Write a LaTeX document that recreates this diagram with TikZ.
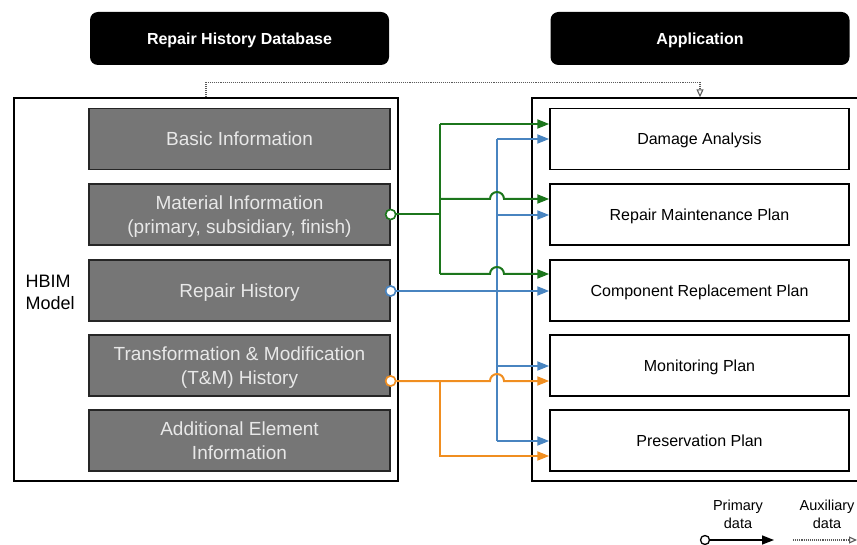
\documentclass[tikz,border=0pt]{standalone}
\usepackage{fontspec}
\setmainfont{Liberation Sans}
\usetikzlibrary{arrows.meta,calc}

\definecolor{gcol}{RGB}{28,118,28}
\definecolor{bcol}{RGB}{72,132,192}
\definecolor{ocol}{RGB}{240,142,32}
\definecolor{boxgray}{RGB}{118,118,118}
\definecolor{boxtext}{RGB}{232,232,232}
\definecolor{dotgray}{RGB}{90,90,90}

\tikzset{
  headbox/.style={fill=black, rounded corners=8pt, minimum width=299, minimum height=53,
    inner sep=0, text depth=0pt, text=white, font=\fontsize{16}{19}\selectfont\bfseries},
  container/.style={draw=black, line width=1.4pt, inner sep=0},
  databox/.style={draw=black!85, line width=1.3pt, fill=boxgray, minimum width=301,
    minimum height=61, inner sep=0, text depth=0pt, align=center, text=boxtext,
    font=\fontsize{19}{24}\selectfont},
  appbox/.style={draw=black, line width=1.5pt, fill=white, minimum width=299,
    minimum height=61, inner sep=0, text depth=0pt, align=center,
    font=\fontsize{16}{19}\selectfont},
  arrowend/.style={-{Triangle[length=12pt,width=9pt]}},
  gconn/.style={draw=gcol, line width=2pt},
  bconn/.style={draw=bcol, line width=2pt},
  oconn/.style={draw=ocol, line width=2pt},
  srcdot/.style={circle, line width=1.5pt, fill=white, minimum size=10, inner sep=0},
  dotline/.style={draw=dotgray, line width=1.1pt, densely dotted},
  legtext/.style={align=center, font=\fontsize{14.5}{18}\selectfont}
}

\begin{document}
\begin{tikzpicture}[x=1pt,y=-1pt]
\useasboundingbox (0,0) rectangle (857,545);

% headers
\node[headbox] (rhd) at (239.5,38.5) {Repair History Database};
\node[headbox] (apph) at (700,38.5) {Application};

% containers
\node[container, minimum width=384, minimum height=383] (lc) at (206,289.5) {};
\begin{scope}
  \clip (0,0) rectangle (857,545);
  \node[container, minimum width=360, minimum height=383] (rc) at (712,289.5) {};
\end{scope}

\node[anchor=west, align=left, font=\fontsize{18}{22}\selectfont] (hbim) at (22,292) {HBIM\\Model};

% data boxes of the HBIM model
\node[databox] (bi) at (239.5,139)   {Basic Information};
\node[databox] (mat) at (239.5,214.5) {Material Information\\(primary, subsidiary, finish)};
\node[databox] (rh) at (239.5,290.5)  {Repair History};
\node[databox] (tm) at (239.5,365.5)  {Transformation \& Modification\\(T\&M) History};
\node[databox] (ae) at (239.5,440.5)  {Additional Element\\Information};

% application boxes
\node[appbox] (da) at (699.5,139)   {Damage Analysis};
\node[appbox] (rm) at (699.5,214.5) {Repair Maintenance Plan};
\node[appbox] (cp) at (699.5,290.5) {Component Replacement Plan};
\node[appbox] (mo) at (699.5,365.5) {Monitoring Plan};
\node[appbox] (pp) at (699.5,440.5) {Preservation Plan};

% auxiliary link between the two blocks
\draw[dotline, -{Triangle[open,length=8pt,width=7pt]}] (lc.north) -- ++(0,-15) -| (rc.north -| apph.south);

% routing columns and arrow targets (kept on whole pixels)
\coordinate (gx) at (440,0);
\coordinate (bx) at (497,0);
\coordinate (daG) at ($(da.west)+(0,-15)$);
\coordinate (rmG) at ($(rm.west)+(0,-15.5)$);
\coordinate (cpG) at ($(cp.west)+(0,-16.5)$);
\coordinate (daB) at (da.west);
\coordinate (rmB) at ($(rm.west)+(0,0.5)$);
\coordinate (cpB) at ($(cp.west)+(0,0.5)$);
\coordinate (moB) at ($(mo.west)+(0,0.5)$);
\coordinate (ppB) at ($(pp.west)+(0,0.5)$);
\coordinate (moO) at ($(mo.west)+(0,15.5)$);
\coordinate (ppO) at ($(pp.west)+(0,15.5)$);

% source markers
\node[srcdot, draw=gcol] (gS) at (mat.east) {};
\node[srcdot, draw=bcol] (bS) at ($(rh.east)+(0,0.5)$) {};
\node[srcdot, draw=ocol] (oS) at ($(tm.east)+(0,15.5)$) {};

% blue: repair history
\draw[bconn] (bx |- daB) -- (bx |- ppB);
\draw[bconn, arrowend] (bS) -- (cpB);
\draw[bconn, arrowend] (bx |- daB) -- (daB);
\draw[bconn, arrowend] (bx |- rmB) -- (rmB);
\draw[bconn, arrowend] (bx |- moB) -- (moB);
\draw[bconn, arrowend] (bx |- ppB) -- (ppB);

% green: material information
\draw[gconn] (gS) -- (gS -| gx);
\draw[gconn] (gx |- daG) -- (gx |- cpG);
\draw[gconn, arrowend] (gx |- daG) -- (daG);
\draw[gconn, arrowend] (gx |- rmG) -- ($(bx |- rmG)+(-7,0)$)
  arc[start angle=180, end angle=360, radius=7] -- (rmG);
\draw[gconn, arrowend] (gx |- cpG) -- ($(bx |- cpG)+(-7,0)$)
  arc[start angle=180, end angle=360, radius=7] -- (cpG);

% orange: T&M history
\draw[oconn, arrowend] (oS) -- ($(bx |- moO)+(-7,0)$)
  arc[start angle=180, end angle=360, radius=7] -- (moO);
\draw[oconn, arrowend] (gx |- oS) |- (ppO);

% redraw markers on top
\node[srcdot, draw=gcol] at (gS) {};
\node[srcdot, draw=bcol] at (bS) {};
\node[srcdot, draw=ocol] at (oS) {};

% legend
\node[legtext] (lgP) at (738,514) {Primary\\data};
\node[legtext] (lgA) at (827,514) {Auxiliary\\data};
\node[circle, draw=black, fill=white, line width=1.3pt, minimum size=9, inner sep=0] (lgC) at (705,540) {};
\coordinate (lgE) at (774,540);
\draw[line width=1.6pt, arrowend] (lgC) -- (lgE);
\coordinate (lgD1) at (793,540);
\coordinate (lgD2) at (857,540);
\draw[dotline, -{Triangle[open,length=8pt,width=7pt]}] (lgD1) -- (lgD2);
\end{tikzpicture}
\end{document}
